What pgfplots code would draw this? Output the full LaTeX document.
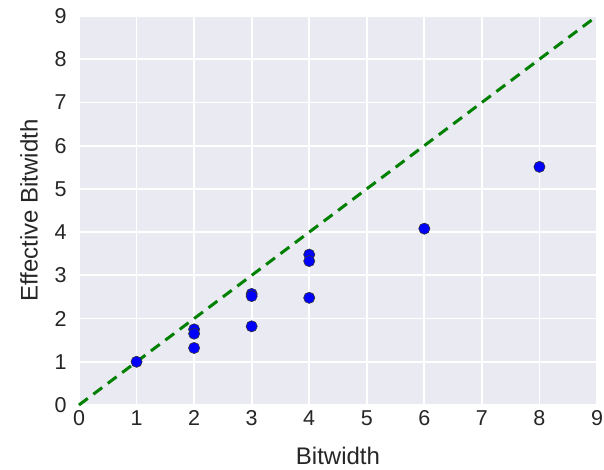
\documentclass[border=0pt]{standalone}
\usepackage{pgfplots}
\pgfplotsset{compat=1.18}
\usepackage{fontspec}
\setmainfont{Liberation Sans}
\definecolor{bgc}{HTML}{EAEAF2}
\definecolor{txt}{gray}{0.15}
\begin{document}
\begin{tikzpicture}
\begin{axis}[
  scale only axis,
  width=518bp, height=389bp,
  xmin=0, xmax=9, ymin=0, ymax=9,
  xtick={0,...,9}, ytick={0,...,9},
  axis background/.style={fill=bgc},
  axis line style={draw=none},
  grid=major,
  major grid style={white, line width=1.8bp},
  major tick length=0pt,
  tick label style={font=\fontsize{21.5bp}{24bp}\selectfont, text=txt},
  /pgf/number format/assume math mode=true,
  label style={font=\fontsize{24bp}{27bp}\selectfont, text=txt},
  xlabel={Bitwidth},
  ylabel={Effective Bitwidth},
  xlabel style={at={(axis description cs:0.5,-0.131)}, anchor=center},
  ylabel style={at={(axis description cs:-0.0965,0.5)}, anchor=center},
  xticklabel style={yshift=-2bp},
  yticklabel style={xshift=-9bp},
  clip=false,
]
\addplot[color={rgb,1:red,0;green,0.5;blue,0}, line width=3bp, dash pattern=on 11bp off 7bp] coordinates {(0,0) (9,9)};
\addplot[only marks, mark=*, mark size=5.6bp, mark options={fill=blue, draw=black!80, line width=0.6bp}] coordinates {
(1,1.00)
(2,1.75) (2,1.65) (2,1.32)
(3,2.57) (3,2.52) (3,1.82)
(4,3.48) (4,3.33) (4,2.48)
(6,4.08)
(8,5.51)
};
\end{axis}
\pgfresetboundingbox
\path (current axis.south west) ++(-79bp,-65bp) rectangle ([shift={(7bp,16bp)}]current axis.north east);
\end{tikzpicture}
\end{document}
